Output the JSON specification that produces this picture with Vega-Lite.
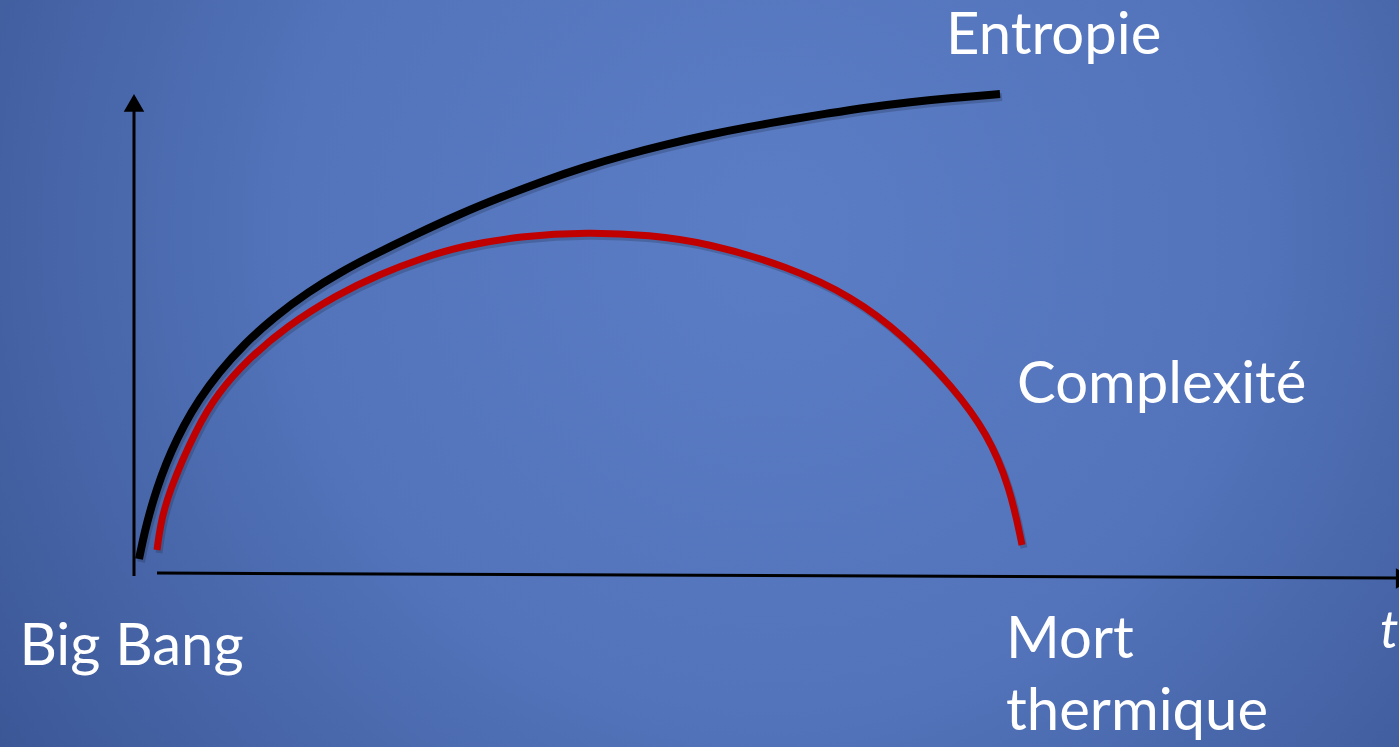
{
  "$schema": "https://vega.github.io/schema/vega-lite/v6.json",
  "width": 1399,
  "height": 747,
  "autosize": {"type": "none"},
  "padding": 0,
  "background": "#4a68ac",
  "config": {"view": {"stroke": null}},
  "datasets": {
    "entropie": [
      {"t": 0.563, "v": 3.534},
      {"t": 1.014, "v": 7.547},
      {"t": 1.464, "v": 11.06},
      {"t": 2.14, "v": 15.57},
      {"t": 3.041, "v": 20.64},
      {"t": 4.167, "v": 25.86},
      {"t": 5.631, "v": 31.43},
      {"t": 7.32, "v": 36.69},
      {"t": 9.572, "v": 42.41},
      {"t": 12.387, "v": 48.19},
      {"t": 15.766, "v": 53.83},
      {"t": 19.707, "v": 59.19},
      {"t": 23.198, "v": 63.1},
      {"t": 26.577, "v": 66.42},
      {"t": 31.644, "v": 71.0},
      {"t": 36.937, "v": 75.47},
      {"t": 41.216, "v": 78.69},
      {"t": 46.059, "v": 82.12},
      {"t": 50.676, "v": 85.03},
      {"t": 55.293, "v": 87.53},
      {"t": 59.91, "v": 89.71},
      {"t": 64.527, "v": 91.68},
      {"t": 69.144, "v": 93.35},
      {"t": 73.649, "v": 94.8},
      {"t": 78.266, "v": 96.22},
      {"t": 82.883, "v": 97.51},
      {"t": 87.387, "v": 98.54},
      {"t": 92.005, "v": 99.38},
      {"t": 97.523, "v": 100.21}
    ],
    "complexite": [
      {"t": 2.59, "v": 5.405},
      {"t": 2.928, "v": 10.19},
      {"t": 3.829, "v": 17.26},
      {"t": 7.095, "v": 30.98},
      {"t": 9.459, "v": 38.05},
      {"t": 12.725, "v": 44.91},
      {"t": 17.23, "v": 51.98},
      {"t": 22.86, "v": 58.52},
      {"t": 27.703, "v": 62.79},
      {"t": 32.545, "v": 66.17},
      {"t": 36.937, "v": 68.61},
      {"t": 43.468, "v": 70.67},
      {"t": 51.126, "v": 71.52},
      {"t": 58.108, "v": 70.89},
      {"t": 64.527, "v": 69.23},
      {"t": 73.536, "v": 64.45},
      {"t": 80.968, "v": 58.0},
      {"t": 86.599, "v": 50.1},
      {"t": 92.23, "v": 39.29},
      {"t": 96.059, "v": 29.73},
      {"t": 98.649, "v": 18.5},
      {"t": 100.0, "v": 6.44}
    ],
    "axes": [
      {"t": 0, "v": 0, "t2": 0, "v2": 96.67},
      {"t": 2.59, "v": 0.62, "t2": 142.23, "v2": -0.42}
    ],
    "arrows": [
      {"t": 0, "v": 98.34, "shape": "triangle-up"},
      {"t": 143.1, "v": -0.52, "shape": "triangle-right"}
    ],
    "labels": [
      {"label": "Entropie", "t": 91.44, "v": 108.5},
      {"label": "Complexité", "t": 99.44, "v": 35.97},
      {"label": "Big Bang", "t": -12.9, "v": -18.5},
      {"label": "Mort", "t": 98.2, "v": -17.05},
      {"label": "thermique", "t": 98.2, "v": -32.02}
    ],
    "tlabel": [
      {"label": "t", "t": 140.3, "v": -14.97}
    ],
    "bg": [
      {"t": -15.09, "t2": 142.45, "v": -35.55, "v2": 119.75}
    ]
  },
  "layer": [
    {
      "data": {"name": "bg"},
      "mark": {
        "type": "rect",
        "fill": {
          "gradient": "radial",
          "x1": 0.55, "y1": 0.4, "r1": 0,
          "x2": 0.55, "y2": 0.4, "r2": 0.75,
          "stops": [
            {"offset": 0, "color": "#5b7dc5"},
            {"offset": 0.45, "color": "#5374bb"},
            {"offset": 1, "color": "#354f8c"}
          ]
        }
      },
      "encoding": {
        "x": {"field": "t", "type": "quantitative", "scale": {"domain": [-15.09, 142.45], "nice": false, "zero": false}, "axis": null},
        "x2": {"field": "t2"},
        "y": {"field": "v", "type": "quantitative", "scale": {"domain": [-35.55, 119.75], "nice": false, "zero": false}, "axis": null},
        "y2": {"field": "v2"}
      }
    },
    {
      "data": {"name": "axes"},
      "mark": {"type": "rule", "color": "black", "strokeWidth": 3},
      "encoding": {
        "x": {"field": "t", "type": "quantitative"},
        "x2": {"field": "t2"},
        "y": {"field": "v", "type": "quantitative"},
        "y2": {"field": "v2"}
      }
    },
    {
      "data": {"name": "arrows"},
      "mark": {"type": "point", "filled": true, "color": "black", "size": 420, "opacity": 1},
      "encoding": {
        "x": {"field": "t", "type": "quantitative"},
        "y": {"field": "v", "type": "quantitative"},
        "shape": {"field": "shape", "type": "nominal", "scale": null}
      }
    },
    {
      "data": {"name": "entropie"},
      "mark": {"type": "line", "color": "#1a2640", "opacity": 0.25, "strokeWidth": 8, "interpolate": "basis", "strokeCap": "butt", "xOffset": 2, "yOffset": 3},
      "encoding": {
        "x": {"field": "t", "type": "quantitative"},
        "y": {"field": "v", "type": "quantitative"}
      }
    },
    {
      "data": {"name": "complexite"},
      "mark": {"type": "line", "color": "#1a2640", "opacity": 0.25, "strokeWidth": 7, "interpolate": "basis", "strokeCap": "butt", "xOffset": 2, "yOffset": 3},
      "encoding": {
        "x": {"field": "t", "type": "quantitative"},
        "y": {"field": "v", "type": "quantitative"}
      }
    },
    {
      "data": {"name": "entropie"},
      "mark": {"type": "line", "color": "black", "strokeWidth": 8, "interpolate": "basis", "strokeCap": "butt"},
      "encoding": {
        "x": {"field": "t", "type": "quantitative"},
        "y": {"field": "v", "type": "quantitative"}
      }
    },
    {
      "data": {"name": "complexite"},
      "mark": {"type": "line", "color": "#c00000", "strokeWidth": 7, "interpolate": "basis", "strokeCap": "butt"},
      "encoding": {
        "x": {"field": "t", "type": "quantitative"},
        "y": {"field": "v", "type": "quantitative"}
      }
    },
    {
      "data": {"name": "labels"},
      "mark": {"type": "text", "color": "white", "font": "Lato", "fontSize": 58, "align": "left", "baseline": "alphabetic"},
      "encoding": {
        "x": {"field": "t", "type": "quantitative"},
        "y": {"field": "v", "type": "quantitative"},
        "text": {"field": "label"}
      }
    },
    {
      "data": {"name": "tlabel"},
      "mark": {"type": "text", "color": "white", "font": "Lato", "fontStyle": "italic", "fontSize": 52, "align": "left", "baseline": "alphabetic"},
      "encoding": {
        "x": {"field": "t", "type": "quantitative"},
        "y": {"field": "v", "type": "quantitative"},
        "text": {"field": "label"}
      }
    }
  ]
}
